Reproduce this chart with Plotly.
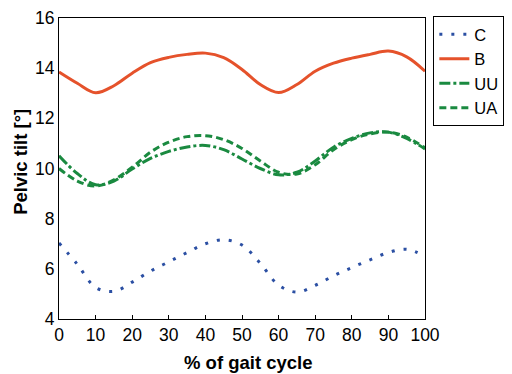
import plotly.graph_objects as go

gait = [0, 5, 10, 15, 20, 25, 30, 35, 40, 45, 50, 55, 60, 65, 70, 75, 80, 85, 90, 95, 100]
C = [7.03, 6.18, 5.26, 5.1, 5.47, 5.91, 6.28, 6.65, 7.0, 7.16, 6.95, 6.22, 5.35, 5.07, 5.34, 5.72, 6.05, 6.36, 6.65, 6.78, 6.5]
B = [13.85, 13.4, 13.02, 13.3, 13.8, 14.22, 14.43, 14.55, 14.6, 14.42, 13.95, 13.35, 13.03, 13.35, 13.88, 14.2, 14.4, 14.55, 14.68, 14.45, 13.88]
UU = [10.51, 9.8, 9.35, 9.5, 9.98, 10.4, 10.68, 10.86, 10.92, 10.75, 10.38, 10.0, 9.75, 9.85, 10.3, 10.85, 11.2, 11.42, 11.45, 11.2, 10.78]
UA = [10.0, 9.5, 9.3, 9.55, 10.05, 10.65, 11.05, 11.27, 11.31, 11.15, 10.8, 10.3, 9.85, 9.78, 10.15, 10.75, 11.15, 11.38, 11.45, 11.25, 10.82]

x_title = "% of gait cycle"
y_title = "Pelvic tilt [°]"

series = [
    ("C", C, "#2b4fa3", "3px,9px"),
    ("B", B, "#e5522b", "solid"),
    ("UU", UU, "#1a8a40", "11px,3px,3px,3px"),
    ("UA", UA, "#1a8a40", "7px,4px"),
]

fig = go.Figure()
for name, vals, col, dash in series:
    fig.add_trace(go.Scatter(x=gait, y=vals, name=name, mode="lines",
                             line=dict(color=col, width=3, dash=dash, shape="spline", smoothing=1.0)))

font = dict(family="Liberation Sans, Arial, sans-serif", size=17.5, color="black")
fig.update_layout(
    width=504, height=366,
    margin=dict(l=51, r=86, t=9, b=55),
    paper_bgcolor="white", plot_bgcolor="white",
    font=font,
    showlegend=True,
    legend=dict(x=1.02, y=1.003, xanchor="left", yanchor="top",
                bordercolor="black", borderwidth=1, bgcolor="white",
                font=dict(size=16.5), tracegroupgap=0, itemwidth=30),
    xaxis=dict(range=[0, 100], tickvals=list(range(0, 101, 10)), automargin=False,
               showgrid=False, zeroline=False, showline=True, linecolor="black", linewidth=1,
               mirror=True, ticks="inside", ticklen=4, tickcolor="black"),
    yaxis=dict(range=[4, 16], tickvals=[4, 6, 8, 10, 12, 14, 16], automargin=False,
               showgrid=False, zeroline=False, showline=True, linecolor="black", linewidth=1,
               mirror=True, ticks="", ticklen=0),
    annotations=[
        dict(text="<b>" + x_title + "</b>", xref="paper", yref="paper", x=0.519, y=-0.146,
             xanchor="center", yanchor="middle", showarrow=False, font=dict(size=18.5)),
        dict(text="<b>" + y_title + "</b>", xref="paper", yref="paper", x=-0.107, y=0.5215,
             xanchor="center", yanchor="middle", showarrow=False, textangle=-90, font=dict(size=18.5)),
    ],
)
fig.write_html("out.html")
